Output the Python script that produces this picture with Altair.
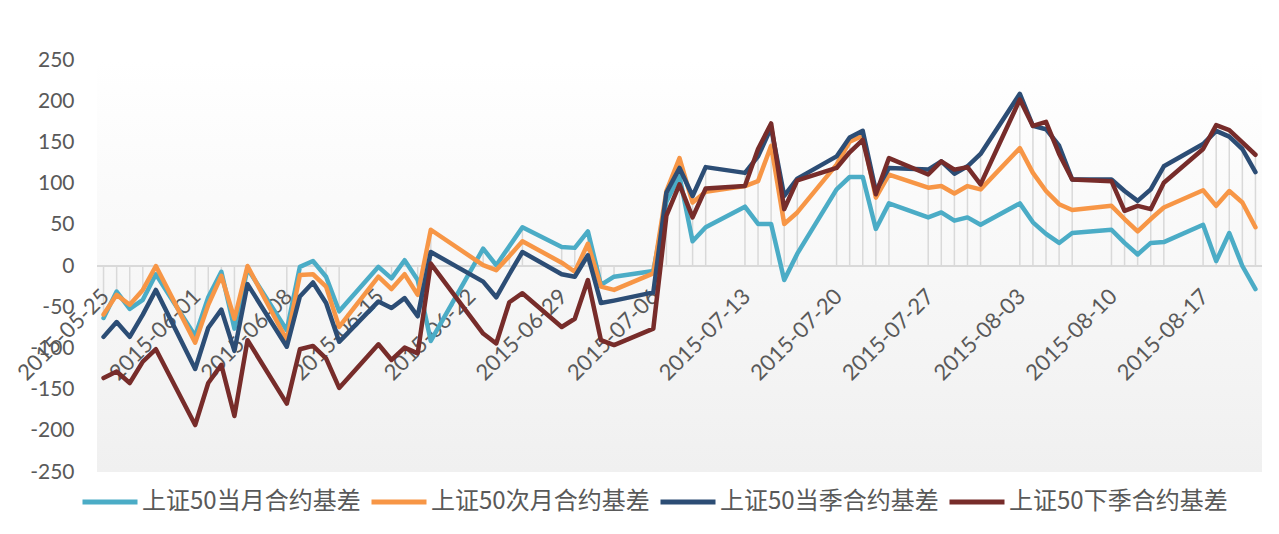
import altair as alt
import pandas as pd

dates = [
    "2015-05-25", "2015-05-26", "2015-05-27", "2015-05-28", "2015-05-29",
    "2015-06-01", "2015-06-02", "2015-06-03", "2015-06-04", "2015-06-05",
    "2015-06-08", "2015-06-09", "2015-06-10", "2015-06-11", "2015-06-12",
    "2015-06-15", "2015-06-16", "2015-06-17", "2015-06-18", "2015-06-19",
    "2015-06-23", "2015-06-24", "2015-06-25", "2015-06-26",
    "2015-06-29", "2015-06-30", "2015-07-01", "2015-07-02", "2015-07-03",
    "2015-07-06", "2015-07-07", "2015-07-08", "2015-07-09", "2015-07-10",
    "2015-07-13", "2015-07-14", "2015-07-15", "2015-07-16", "2015-07-17",
    "2015-07-20", "2015-07-21", "2015-07-22", "2015-07-23", "2015-07-24",
    "2015-07-27", "2015-07-28", "2015-07-29", "2015-07-30", "2015-07-31",
    "2015-08-03", "2015-08-04", "2015-08-05", "2015-08-06", "2015-08-07",
    "2015-08-10", "2015-08-11", "2015-08-12", "2015-08-13", "2015-08-14",
    "2015-08-17", "2015-08-18", "2015-08-19", "2015-08-20", "2015-08-21",
]

s_month = [
    -63, -31, -52, -41, -10,
    -85, -38, -7, -76, -3,
    -78, -1, 6, -13, -55,
    -1, -15, 7, -17, -91,
    21, 1, 24, 47,
    23, 22, 42, -23, -13,
    -6, 78, 109, 30, 47,
    72, 51, 51, -17, 15,
    93, 108, 108, 45, 76,
    59, 65, 55, 59, 50,
    76, 53, 39, 28, 40,
    44, 28, 14, 28, 29,
    50, 6, 40, 0, -28,
]
s_next = [
    -59, -35, -47, -29, 0,
    -93, -47, -12, -64, 0,
    -90, -11, -10, -25, -74,
    -13, -28, -10, -35, 44,
    1, -5, 12, 30,
    4, -7, 27, -25, -29,
    -9, 91, 131, 77, 90,
    97, 103, 146, 51, 65,
    123, 151, 158, 83, 111,
    95, 97, 88, 97, 93,
    143, 113, 91, 75, 68,
    73, 57, 42, 57, 71,
    92, 73, 91, 77, 47,
]
s_quarter = [
    -86, -68, -86, -59, -29,
    -125, -75, -53, -103, -22,
    -98, -37, -20, -45, -92,
    -43, -51, -39, -61, 17,
    -19, -38, -10, 17,
    -10, -13, 13, -45, -42,
    -32, 89, 119, 85, 120,
    113, 133, 168, 85, 106,
    133, 156, 164, 91, 119,
    117, 127, 112, 121, 136,
    209, 170, 166, 146, 105,
    105, 91, 79, 93, 121,
    148, 164, 157, 142, 114,
]
s_nextq = [
    -136, -128, -142, -116, -101,
    -193, -142, -120, -182, -90,
    -167, -101, -97, -112, -148,
    -95, -114, -99, -106, 3,
    -82, -94, -44, -33,
    -74, -64, -17, -90, -96,
    -76, 61, 99, 59, 94,
    97, 142, 173, 69, 104,
    119, 138, 153, 87, 131,
    111, 127, 117, 120, 99,
    202, 170, 175, 136, 105,
    103, 67, 73, 69, 101,
    142, 171, 165, 150, 135,
]

names = ["上证50当月合约基差", "上证50次月合约基差", "上证50当季合约基差", "上证50下季合约基差"]
colors = ["#4BACC6", "#F79646", "#2C4D75", "#772C2A"]
y_ticks = list(range(-250, 251, 50))
x_tick_labels = ["2015-05-25", "2015-06-01", "2015-06-08", "2015-06-15", "2015-06-22",
                 "2015-06-29", "2015-07-06", "2015-07-13", "2015-07-20", "2015-07-27",
                 "2015-08-03", "2015-08-10", "2015-08-17"]

wide = pd.DataFrame({"date": pd.to_datetime(dates)})
for n, s in zip(names, [s_month, s_next, s_quarter, s_nextq]):
    wide[n] = s
long = wide.melt("date", var_name="series", value_name="value")
ticks_df = pd.DataFrame({"date": pd.to_datetime(x_tick_labels), "label": x_tick_labels})

FONT = "Lato"
GRAY = "#595959"

x_scale = alt.Scale(domain=[alt.DateTime(year=2015, month=5, date=24, hours=12),
                            alt.DateTime(year=2015, month=8, date=21, hours=12)])
y_scale = alt.Scale(domain=[-250, 250], nice=False, zero=False)

y_axis = alt.Axis(
    values=y_ticks, labelExpr="'' + datum.value", domain=False, ticks=False, grid=False,
    labelFontSize=21, labelFont=FONT, labelColor=GRAY, labelPadding=23, title=None,
)

grad = alt.Gradient(
    gradient="linear",
    stops=[alt.GradientStop(color="#FFFFFF", offset=0), alt.GradientStop(color="#F0F0F0", offset=1)],
    x1=0, x2=0, y1=0, y2=1,
)

bg = alt.Chart(pd.DataFrame({"k": [0]})).mark_rect(fill=grad).encode(
    x=alt.value(0), x2=alt.value("width"), y=alt.value(0), y2=alt.value("height"),
)

drops = alt.Chart(long).transform_aggregate(
    top="max(value)", groupby=["date"]
).mark_rule(color="#D9D9D9", strokeWidth=1.5).encode(
    x=alt.X("date:T", scale=x_scale, axis=None),
    y=alt.Y("top:Q", scale=y_scale, axis=y_axis),
    y2=alt.datum(0),
)

zero = alt.Chart(pd.DataFrame({"k": [0]})).mark_rule(color="#D9D9D9", strokeWidth=2).encode(
    x=alt.value(0), x2=alt.value("width"), y=alt.datum(0, scale=y_scale),
)

xlabels = alt.Chart(ticks_df).mark_text(
    angle=315, align="right", baseline="middle", font=FONT, fontSize=22, color=GRAY,
    xOffset=2, yOffset=27,
).encode(
    x=alt.X("date:T", scale=x_scale, axis=None),
    y=alt.datum(0),
    text="label:N",
)

lines = alt.Chart(long).mark_line(strokeWidth=4.5, strokeJoin="round", strokeCap="round").encode(
    x=alt.X("date:T", scale=x_scale, axis=None),
    y=alt.Y("value:Q", scale=y_scale, axis=y_axis),
    color=alt.Color(
        "series:N", sort=names,
        scale=alt.Scale(domain=names, range=colors),
        legend=alt.Legend(
            orient="none", legendX=-17, legendY=412, direction="horizontal", title=None,
            symbolType="stroke", symbolSize=3025, symbolStrokeWidth=5,
            labelFontSize=24, labelFont="Noto Sans CJK SC", labelColor=GRAY,
            labelOffset=2, columnPadding=0, labelLimit=0, padding=0,
        ),
    ),
)

chart = alt.layer(bg, drops, zero, xlabels, lines).properties(
    width=1165, height=412,
    autosize=alt.AutoSizeParams(type="none"),
    padding={"left": 89, "top": 52, "right": 5, "bottom": 52},
).configure_view(strokeWidth=0)

chart.save("out.html", embed_options={"renderer": "svg", "actions": False})
